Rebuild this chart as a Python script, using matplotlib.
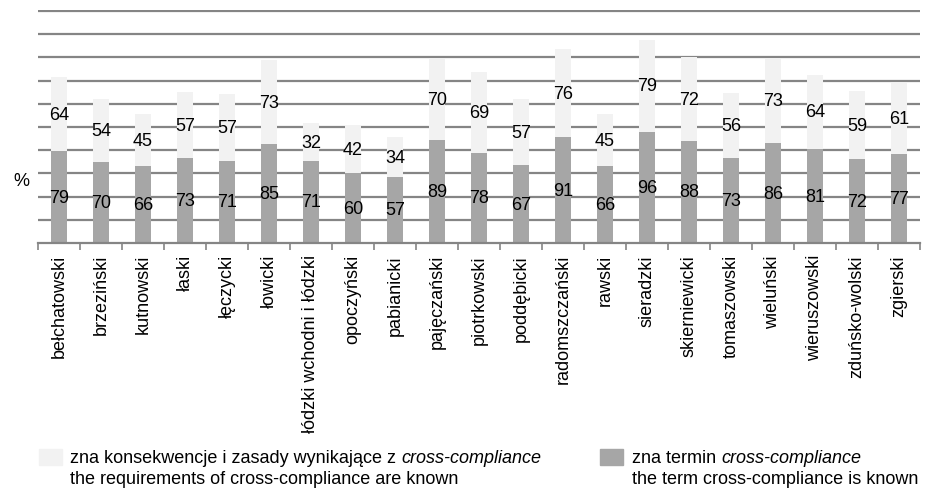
import numpy as np
import matplotlib
matplotlib.use("Agg")
import matplotlib.pyplot as plt
from matplotlib.patches import Rectangle

plt.rcParams['font.family'] = ['Liberation Sans', 'DejaVu Sans']

# data
districts = ["bełchatowski", "brzeziński", "kutnowski", "łaski", "łęczycki",
             "łowicki", "łódzki wchodni i łódzki", "opoczyński", "pabianicki",
             "pajęczański", "piotrkowski", "poddębicki", "radomszczański",
             "rawski", "sieradzki", "skierniewicki", "tomaszowski", "wieluński",
             "wieruszowski", "zduńsko-wolski", "zgierski"]
term_known = [79, 70, 66, 73, 71, 85, 71, 60, 57, 89, 78, 67, 91, 66, 96, 88, 73, 86, 81, 72, 77]
rules_known = [64, 54, 45, 57, 57, 73, 32, 42, 34, 70, 69, 57, 76, 45, 79, 72, 56, 73, 64, 59, 61]

dark = "#A6A6A6"
light = "#F2F2F2"
gridc = "#858585"
fs = 13

fig = plt.figure(figsize=(9.29, 4.89), dpi=100)
ax = fig.add_axes([38 / 929, 1 - 244 / 489, 882 / 929, 233.2 / 489])

n = len(districts)
x = np.arange(n)
w = 0.4
ax.bar(x, term_known, w, color=dark, zorder=2)
ax.bar(x, rules_known, w, bottom=term_known, color=light, zorder=2)

for i in range(n):
    ax.text(x[i], term_known[i] / 2, str(term_known[i]), ha='center', va='center',
            fontsize=fs, zorder=3)
    ax.text(x[i], term_known[i] + rules_known[i] / 2, str(rules_known[i]),
            ha='center', va='center', fontsize=fs, zorder=3)

ax.set_xlim(-0.5, n - 0.5)
ax.set_ylim(0, 201)
ax.set_yticks(np.arange(20, 201, 20))
ax.yaxis.grid(True, color=gridc, linewidth=1.6)
ax.set_axisbelow(True)
ax.tick_params(axis='y', length=0, labelleft=False)

ax.set_xticks(x)
ax.set_xticklabels(districts, rotation=90, fontsize=fs)
ax.set_xticks(np.arange(-0.5, n, 1), minor=True)
ax.tick_params(axis='x', which='major', length=0, pad=8)
ax.tick_params(axis='x', which='minor', length=5, color=gridc, width=1.2)

for s in ['top', 'right', 'left']:
    ax.spines[s].set_visible(False)
ax.spines['bottom'].set_color(gridc)
ax.spines['bottom'].set_linewidth(1.6)

fig.text(21 / 929, 1 - 182 / 489, "%", ha='center', va='center', fontsize=fs)

# legend
fig.patches.append(Rectangle((39 / 929, 1 - 466 / 489), 23 / 929, 16 / 489,
                             transform=fig.transFigure, color=light))
fig.patches.append(Rectangle((600 / 929, 1 - 466 / 489), 23 / 929, 16 / 489,
                             transform=fig.transFigure, color=dark))

fig.canvas.draw()
r = fig.canvas.get_renderer()


def mixed(xpx, ypx, parts):
    xx = xpx
    for txt, st in parts:
        t = fig.text(xx / 929, 1 - ypx / 489, txt, fontsize=fs, style=st, va='baseline')
        bb = t.get_window_extent(renderer=r)
        xx = bb.x1


mixed(70, 463, [("zna konsekwencje i zasady wynikające z ", 'normal'),
                ("cross-compliance", 'italic')])
mixed(70, 484, [("the requirements of cross-compliance are known", 'normal')])
mixed(632, 463, [("zna termin ", 'normal'), ("cross-compliance", 'italic')])
mixed(632, 484, [("the term cross-compliance is known", 'normal')])

fig.savefig("out.png", dpi=100)
